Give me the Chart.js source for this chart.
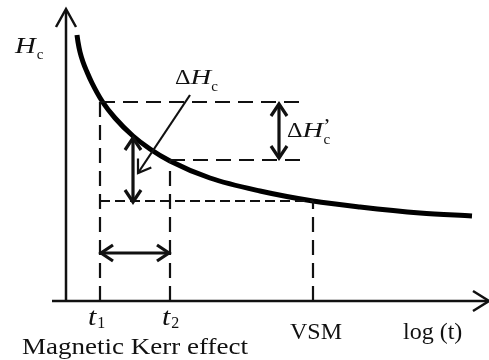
<!DOCTYPE html>
<html>
<head>
<meta charset="utf-8">
<script src="https://cdn.jsdelivr.net/npm/chart.js@4"></script>
<style>
  html, body { margin: 0; padding: 0; background: #fff; }
  canvas { display: block; }
</style>
</head>
<body>
<canvas id="c" width="489" height="360"></canvas>
<script>
const curveX = [11, 12, 14, 17, 21, 26, 36, 49, 67, 84, 104, 144, 194, 247, 294, 354, 406];
const curveY = [266, 259, 249, 239, 229, 218, 200, 183, 165, 152, 140, 123, 110, 100, 94, 88, 85];

// measurement times: t1, t2, VSM
const timeNames = ["t1", "t2", "VSM"];
const timeX = [34, 104, 247];
// Hc level read at each time, and where its dashed guide stops
const levelY = [199, 141, 100];
const levelFromX = [34, 104, 34];
const levelToX = [241, 239, 247];

const xRange = [-66, 423];
const yRange = [-59, 301];
const xAxisEnd = [-14, 422];
const yAxisTop = 291;

// arrows: [x1, y1, x2, y2, double?]
const arrows = [
  [213, 197, 213, 143, true],   // ΔHc'
  [67, 163, 67, 99, true],      // ΔHc
  [35, 48, 103, 48, true],      // t1 -> t2
  [124, 206, 72, 128, false],   // pointer from ΔHc label
];

const SERIF = '"Liberation Serif", "DejaVu Serif", serif';

function pts(xs, ys) {
  return xs.map((x, i) => ({ x: x, y: ys[i] }));
}

function dashed(xs, ys, dash) {
  return {
    data: pts(xs, ys),
    showLine: true,
    borderColor: "#111",
    borderWidth: 2.2,
    borderDash: dash,
    pointRadius: 0,
  };
}

const datasets = [
  // axes
  { data: pts(xAxisEnd, [0, 0]), showLine: true, borderColor: "#111", borderWidth: 2.5, pointRadius: 0 },
  { data: pts([0, 0], [0, yAxisTop]), showLine: true, borderColor: "#111", borderWidth: 2.5, pointRadius: 0 },
  // horizontal guides
  dashed([levelFromX[0], levelToX[0]], [levelY[0], levelY[0]], [15, 8]),
  dashed([levelFromX[1], levelToX[1]], [levelY[1], levelY[1]], [15, 8]),
  dashed([levelFromX[2], levelToX[2]], [levelY[2], levelY[2]], [10, 5]),
  // vertical guides
  dashed([timeX[0], timeX[0]], [0, levelY[0]], [15, 8]),
  dashed([timeX[1], timeX[1]], [0, levelY[1]], [15, 8]),
  dashed([timeX[2], timeX[2]], [0, levelY[2]], [15, 8]),
  // the decay curve
  {
    data: pts(curveX, curveY),
    showLine: true,
    borderColor: "#000",
    borderWidth: 5,
    pointRadius: 0,
    cubicInterpolationMode: "monotone",
  },
];

// text runs: [text, style, size, dy, dx, stretch]
const labels = [
  { x: -51, y: 248, runs: [["H", "italic", 23, 0, 0, 1.25], ["c", "", 15, 6, 1]] },
  { x: 109, y: 217, runs: [["Δ", "", 22, 0, 0, 1.1], ["H", "italic", 22, 0, 0, 1.3], ["c", "", 15, 7, 0]] },
  { x: 221, y: 164, runs: [["Δ", "", 22, 0, 0, 1.1], ["H", "italic", 22, 0, 0, 1.3], ["’", "", 22, -4, 0], ["c", "", 15, 7, -7]] },
  { x: 22, y: -24, runs: [["t", "italic", 26, 0, 0, 1.15], ["1", "", 16, 3, 1]] },
  { x: 96, y: -24, runs: [["t", "italic", 26, 0, 0, 1.15], ["2", "", 16, 3, 1]] },
  { x: 224, y: -38, runs: [["VSM", "", 24, 0]] },
  { x: 337, y: -38, runs: [["log (t)", "", 24, 0]] },
  { x: -44, y: -53, runs: [["Magnetic Kerr effect", "", 24, 0]], width: 226 },
];

function chevron(ctx, x1, y1, x2, y2, len, wid) {
  const a = Math.atan2(y2 - y1, x2 - x1);
  const ux = Math.cos(a), uy = Math.sin(a);
  ctx.beginPath();
  ctx.moveTo(x2 - ux * len - uy * wid, y2 - uy * len + ux * wid);
  ctx.lineTo(x2, y2);
  ctx.lineTo(x2 - ux * len + uy * wid, y2 - uy * len - ux * wid);
  ctx.stroke();
}

const overlay = {
  id: "overlay",
  afterDatasetsDraw(chart) {
    const ctx = chart.ctx;
    const sx = v => chart.scales.x.getPixelForValue(v);
    const sy = v => chart.scales.y.getPixelForValue(v);
    ctx.save();
    ctx.strokeStyle = "#111";
    ctx.fillStyle = "#111";
    ctx.lineCap = "butt";
    ctx.lineJoin = "miter";

    // axis heads
    ctx.lineWidth = 2.5;
    chevron(ctx, sx(0), sy(0), sx(0), sy(yAxisTop + 1), 18, 10);
    chevron(ctx, sx(0), sy(0), sx(xAxisEnd[1] + 1), sy(0), 16, 10);

    arrows.forEach(([x1, y1, x2, y2, both]) => {
      const p1 = [sx(x1), sy(y1)], p2 = [sx(x2), sy(y2)];
      ctx.lineWidth = both ? 3.2 : 2.2;
      ctx.beginPath();
      ctx.moveTo(p1[0], p1[1]);
      ctx.lineTo(p2[0], p2[1]);
      ctx.stroke();
      chevron(ctx, p1[0], p1[1], p2[0], p2[1], 12, 8);
      if (both) chevron(ctx, p2[0], p2[1], p1[0], p1[1], 12, 8);
    });

    ctx.textBaseline = "alphabetic";
    ctx.textAlign = "left";
    labels.forEach(l => {
      let x = sx(l.x);
      const y = sy(l.y);
      if (l.width) {
        const r = l.runs[0];
        ctx.font = `${r[1]} ${r[2]}px ${SERIF}`;
        const w = ctx.measureText(r[0]).width;
        ctx.save();
        ctx.translate(x, y);
        ctx.scale(l.width / w, 1);
        ctx.fillText(r[0], 0, 0);
        ctx.restore();
        return;
      }
      l.runs.forEach(r => {
        ctx.font = `${r[1]} ${r[2]}px ${SERIF}`;
        const dx = r[4] || 0;
        const k = r[5] || 1;
        ctx.save();
        ctx.translate(x + dx, y + r[3]);
        ctx.scale(k, 1);
        ctx.fillText(r[0], 0, 0);
        ctx.restore();
        x += ctx.measureText(r[0]).width * k + dx;
      });
    });
    ctx.restore();
  },
};

new Chart(document.getElementById("c"), {
  type: "scatter",
  data: { datasets: datasets },
  options: {
    responsive: false,
    animation: false,
    devicePixelRatio: 1,
    layout: { padding: 0 },
    plugins: { legend: { display: false }, tooltip: { enabled: false } },
    scales: {
      x: { type: "linear", min: xRange[0], max: xRange[1], display: false },
      y: { type: "linear", min: yRange[0], max: yRange[1], display: false },
    },
  },
  plugins: [overlay],
});
</script>
</body>
</html>
